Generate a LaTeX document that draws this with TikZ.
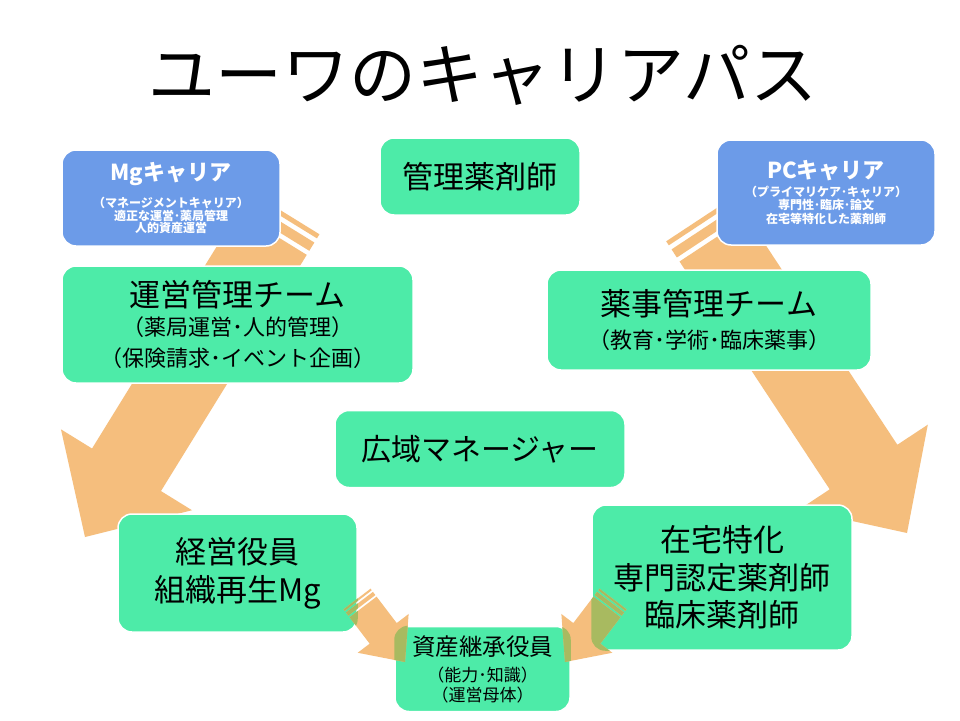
\documentclass[tikz,border=0pt]{standalone}
\usepackage{fontspec}
\setmainfont{Noto Sans CJK JP}
\usepackage{tikz}
\usetikzlibrary{calc}
\definecolor{boxgreen}{RGB}{77,235,168}
\definecolor{boxblue}{RGB}{108,155,232}
\definecolor{arroworange}{RGB}{245,190,125}
\definecolor{overlapolive}{RGB}{168,186,96}

\begin{document}
\begin{tikzpicture}[x=1pt,y=-1pt]

\tikzstyle{every node}=[inner sep=0pt,align=center]
\tikzstyle{greenbox}=[fill=boxgreen,draw=white,line width=1.5pt,rounded corners=14pt]
\tikzstyle{bluebox}=[fill=boxblue,draw=white,line width=1.5pt,rounded corners=14pt,text=white]
\tikzstyle{arrowfill}=[fill=arroworange]

% tail, tip, half shaft, half head, head length, stripes
\def\stripearrow#1#2#3#4#5#6#7#8#9{
\fill[arrowfill] ($(#1)!0pt!(#2)!#3!90:(#2)$) -- ($(#1)!#6!(#2)!#3!90:(#2)$) -- ($(#1)!#6!(#2)!#3!-90:(#2)$) -- ($(#1)!0pt!(#2)!#3!-90:(#2)$) -- cycle;
\fill[arrowfill] ($(#1)!#7!(#2)!#3!90:(#2)$) -- ($(#1)!#8!(#2)!#3!90:(#2)$) -- ($(#1)!#8!(#2)!#3!-90:(#2)$) -- ($(#1)!#7!(#2)!#3!-90:(#2)$) -- cycle;
\fill[arrowfill] ($(#1)!#9!(#2)!#3!90:(#2)$) -- ($(#2)!#5!(#1)!#3!-90:(#1)$) -- ($(#2)!#5!(#1)!#4!-90:(#1)$) -- (#2) -- ($(#2)!#5!(#1)!#4!90:(#1)$) -- ($(#2)!#5!(#1)!#3!90:(#1)$) -- ($(#1)!#9!(#2)!#3!-90:(#2)$) -- cycle;
}

\useasboundingbox[fill=white] (0,0) rectangle (960,720);

\node[font=\fontsize{67}{70}\selectfont] (title) at (483,75) {ユーワのキャリアパス};

\coordinate (mgtail) at (285,213);
\coordinate (mgtip) at (85,537);
\coordinate (pctail) at (700,219);
\coordinate (pctip) at (907,533);
\coordinate (lowltail) at (357,599);
\coordinate (lowltip) at (405,662);
\coordinate (lowrtail) at (613,599);
\coordinate (lowrtip) at (565,662);

\stripearrow{mgtail}{mgtip}{40.5pt}{77pt}{79pt}{4.8pt}{9.7pt}{19.4pt}{24.2pt}
\stripearrow{pctail}{pctip}{40.5pt}{77pt}{79pt}{4.8pt}{9.7pt}{19.4pt}{24.2pt}

\node[bluebox,font=\bfseries\fontsize{12}{12.4}\selectfont,minimum width=218,minimum height=96] (mg) at (171,198)
  {{\fontsize{22}{24}\selectfont Mgキャリア}\\[10.6pt]（マネージメントキャリア）\\適正な運営･薬局管理\\人的資産運営};
\node[greenbox,font=\fontsize{31}{34}\selectfont,minimum width=200,minimum height=77] (kanri) at (480,176.5) {管理薬剤師};
\node[bluebox,font=\bfseries\fontsize{12}{13.8}\selectfont,minimum width=218,minimum height=105] (pc) at (826,192.5)
  {{\fontsize{22}{24}\selectfont PCキャリア}\\[4.1pt]（プライマリケア･キャリア）\\専門性･臨床･論文\\在宅等特化した薬剤師};
\node[greenbox,font=\fontsize{22}{31}\selectfont,minimum width=351,minimum height=117] (unei) at (237.5,324.5)
  {{\fontsize{31}{31}\selectfont 運営管理チーム}\\[-2.4pt]（薬局運営･人的管理）\\（保険請求･イベント企画）};
\node[greenbox,font=\fontsize{22}{30}\selectfont,minimum width=324,minimum height=100] (yakuji) at (709,320)
  {{\fontsize{31}{30}\selectfont 薬事管理チーム}\\[2.6pt]（教育･学術･臨床薬事）};
\node[greenbox,font=\fontsize{30}{34}\selectfont,minimum width=290,minimum height=77] (kouiki) at (480,449) {広域マネージャー};
\node[greenbox,font=\fontsize{31}{38}\selectfont,minimum width=239,minimum height=118] (keiei) at (237.5,573) {経営役員\\組織再生Mg};
\node[greenbox,font=\fontsize{31}{37.5}\selectfont,minimum width=260,minimum height=145] (zaitaku) at (722,577.5) {在宅特化\\専門認定薬剤師\\臨床薬剤師};
\node[greenbox,font=\fontsize{17}{20}\selectfont,minimum width=175,minimum height=85] (shisan) at (482.5,669)
  {{\fontsize{23.5}{26}\selectfont 資産継承役員}\\[6pt]（能力･知識）\\（運営母体）};

\stripearrow{lowltail}{lowltip}{17pt}{32pt}{36pt}{2pt}{4pt}{8pt}{10pt}
\stripearrow{lowrtail}{lowrtip}{17pt}{32pt}{36pt}{2pt}{4pt}{8pt}{10pt}

\begin{scope}[arrowfill/.style={fill=overlapolive}]
\clip[rounded corners=14pt] (shisan.north west) rectangle (shisan.south east);
\stripearrow{lowltail}{lowltip}{17pt}{32pt}{36pt}{2pt}{4pt}{8pt}{10pt}
\stripearrow{lowrtail}{lowrtip}{17pt}{32pt}{36pt}{2pt}{4pt}{8pt}{10pt}
\end{scope}
\begin{scope}[arrowfill/.style={fill=overlapolive}]
\clip[rounded corners=14pt] (keiei.north west) rectangle (keiei.south east);
\stripearrow{lowltail}{lowltip}{17pt}{32pt}{36pt}{2pt}{4pt}{8pt}{10pt}
\end{scope}
\begin{scope}[arrowfill/.style={fill=overlapolive}]
\clip[rounded corners=14pt] (zaitaku.north west) rectangle (zaitaku.south east);
\stripearrow{lowrtail}{lowrtip}{17pt}{32pt}{36pt}{2pt}{4pt}{8pt}{10pt}
\end{scope}
\end{tikzpicture}
\end{document}
